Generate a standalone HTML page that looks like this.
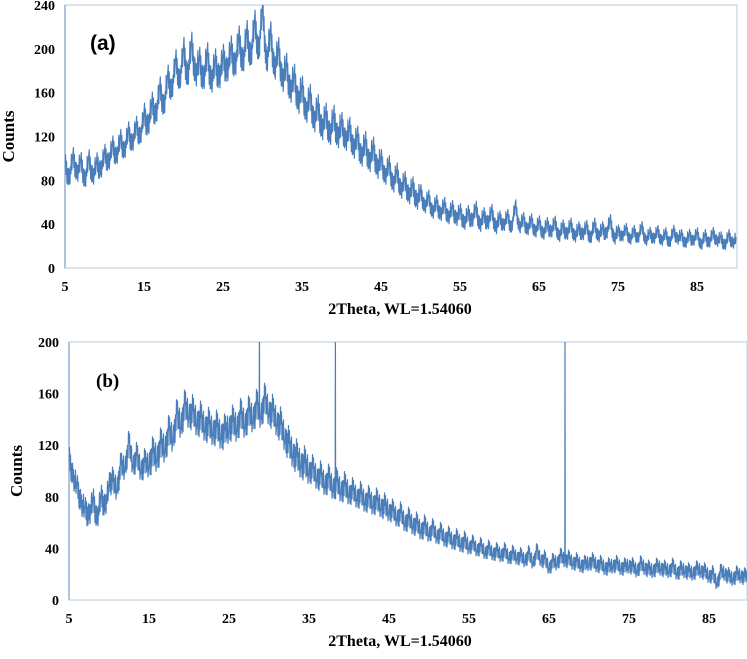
<!DOCTYPE html>
<html><head><meta charset="utf-8"><style>
body{margin:0;background:#fff}
svg text{font-family:"Liberation Serif",serif;font-weight:bold;fill:#000}
</style></head><body>
<svg id="c" width="747" height="654" xmlns="http://www.w3.org/2000/svg"></svg>
<script>
const xTicks=[5,15,25,35,45,55,65,75,85];
const yTicksA=[0,40,80,120,160,200,240];
const yTicksB=[0,40,80,120,160,200];
const seriesA=[95,80,102,85,98,78,100,82,96,88,104,
95,112,100,118,105,125,112,130,118,140,
128,150,138,165,145,175,160,190,168,200,
172,205,175,190,170,195,168,188,172,192,
178,200,182,210,185,215,190,225,195,238,
185,215,180,200,170,185,160,175,150,165,
140,158,132,148,125,140,120,138,118,132,
115,128,108,120,100,115,95,110,90,100,
82,95,75,88,70,80,65,75,60,70,
55,65,50,60,48,58,45,55,44,52,
40,50,42,55,38,48,40,52,36,46,
38,48,35,58,36,45,34,44,32,42,
30,40,32,42,28,38,30,40,28,36,
30,38,26,40,28,36,30,44,26,34,
28,36,25,34,26,38,24,32,26,34,
24,32,22,34,26,30,22,30,24,32,
20,30,22,32,24,28,20,30,22,28];
const seriesB=[110,95,88,75,70,65,78,62,80,72,88,
95,82,108,98,125,100,115,96,110,100,
118,105,125,112,135,120,148,130,155,138,
150,132,145,128,140,125,138,122,135,128,
142,128,148,130,150,135,155,138,160,140,
150,132,140,120,125,108,115,100,110,95,
105,90,100,85,98,82,95,80,92,78,
88,75,85,72,82,70,80,68,76,65,
72,60,70,56,66,54,62,50,60,48,
58,46,55,44,52,42,50,40,48,38,
46,36,44,34,42,33,40,32,40,30,
38,30,36,28,38,26,40,28,34,22,
32,26,36,28,34,26,32,24,30,26,
32,24,30,22,28,24,30,22,28,24,
28,20,30,22,26,20,28,22,26,20,
28,18,26,20,24,18,26,20,24,16,
22,10,24,18,20,14,22,16,20,18];
// scatter half-width (counts) per 5-degree region, 5..90
const bandA=[10,10,12,14,14,14,13,12,10,8,8,7,7,7,6,6,6];
const bandB=[10,10,12,12,12,12,10,9,8,7,6,6,6,6,6,6,6];
const peakX=[28.8,38.3,67];
const peakY=[215,215,205];
const xStart=5, xStep=0.5;
const jitter=[0.2,1,-0.6,0.8,-1,0.5,-0.8,0.9,-0.3,0.7,-0.9,0.4,-0.5,1,-0.7,0.1];

const NS="http://www.w3.org/2000/svg";
const svg=document.getElementById('c');
function mk(t,a,p){const e=document.createElementNS(NS,t);for(const k in a)e.setAttribute(k,a[k]);(p||svg).appendChild(e);return e;}

function panel(cfg){
  const g=mk('g',{});
  
  
  const sx=v=>cfg.x0+(v-5)*cfg.kx;
  const sy=v=>cfg.yb-(v/cfg.ymax)*(cfg.yb-cfg.yt);
  const fr=mk('rect',{x:cfg.x0,y:cfg.yt,width:cfg.xr-cfg.x0,height:cfg.yb-cfg.yt,fill:'none',stroke:'#d0dcec','stroke-width':1.5},g);
  
  
  const ax=mk('line',{x1:cfg.x0,y1:cfg.yt,x2:cfg.x0,y2:cfg.yb,stroke:'#9db6dc','stroke-width':1.5},g);
  
  
  const cid='clip'+cfg.name;
  const cp=mk('clipPath',{id:cid},g);
  mk('rect',{x:cfg.x0,y:cfg.yt,width:cfg.xr-cfg.x0,height:cfg.yb-cfg.yt},cp);
  // densify: interpolate between samples and add scatter band
  let pts=[];
  const n=cfg.data.length;
  let k=0;
  for(let i=0;i<n-1;i++){
    const x0=xStart+i*xStep, v0=cfg.data[i], v1=cfg.data[i+1];
    for(let s=0;s<8;s++){
      const x=x0+s*xStep/8;
      const base=v0+(v1-v0)*s/8;
      const amp=cfg.band[Math.min(cfg.band.length-1,Math.floor((x-5)/5))];
      pts.push([x,base+amp*jitter[k%jitter.length]]);
      k++;
    }
  }
  pts.push([xStart+(n-1)*xStep,cfg.data[n-1]]);
  if(cfg.peaks){
    cfg.peaks[0].forEach((px,i)=>{
      let j=pts.findIndex(p=>p[0]>px);
      const base=pts[j-1][1];
      pts.splice(j,0,[px-0.02,base],[px,cfg.peaks[1][i]],[px+0.02,base]);
    });
  }
  const d=pts.map((p,i)=>(i?'L':'M')+sx(p[0]).toFixed(1)+','+sy(p[1]).toFixed(1)).join('');
  const ln=mk('path',{d:d,fill:'none',stroke:'#4a7ebb','stroke-width':1.2,'stroke-linejoin':'round','clip-path':'url(#'+cid+')'},g);
  
  
  cfg.yticks.forEach(v=>{
    const t=mk('text',{x:cfg.x0-10,y:sy(v)+5,'text-anchor':'end','font-size':14},g);
    t.textContent=v;
    
    
  });
  xTicks.forEach(v=>{
    const t=mk('text',{x:sx(v),y:cfg.yb+23,'text-anchor':'middle','font-size':14},g);
    t.textContent=v;
    
    
  });
  const xt=mk('text',{x:400,y:cfg.yb+46,'text-anchor':'middle','font-size':16},g);
  xt.textContent='2Theta, WL=1.54060';
  
  
  const yt=mk('text',{transform:'translate('+cfg.ylx+','+((cfg.yt+cfg.yb)/2)+') rotate(-90)','text-anchor':'middle','font-size':17},g);
  yt.textContent='Counts';
  
  
  const lb=mk('text',{x:cfg.lx,y:cfg.ly,'font-size':cfg.lsize,style:cfg.lstyle},g);
  lb.textContent=cfg.label;
  
  
}
panel({name:'panel-a',x0:65,xr:737,kx:7.9,yt:5,yb:268,ymax:240,data:seriesA,band:bandA,yticks:yTicksA,ylx:14,label:'(a)',lx:90,ly:50,lsize:21,lstyle:'font-family:"Liberation Sans",sans-serif'});
panel({name:'panel-b',x0:69,xr:747,kx:8.0,yt:342,yb:600,ymax:200,data:seriesB,band:bandB,yticks:yTicksB,ylx:22,label:'(b)',lx:96,ly:387,lsize:19,lstyle:'',peaks:[peakX,peakY]});
</script>
</body></html>
